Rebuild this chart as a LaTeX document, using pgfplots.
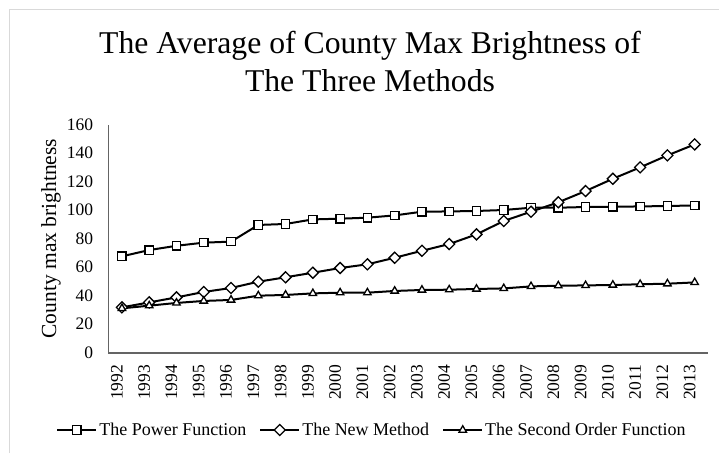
\documentclass[border=0pt]{standalone}
\usepackage{pgfplots}
\usepackage{pgfplotstable}
\pgfplotsset{compat=1.18}
\usepackage{fontspec}
\setmainfont{Liberation Serif}

\pgfplotstableread{
year power newm second
1992 67.6 31.8 31.1
1993 72.0 35.3 33.0
1994 75.0 38.8 34.9
1995 77.2 42.6 36.3
1996 77.9 45.4 37.0
1997 89.6 49.8 40.0
1998 90.3 52.9 40.5
1999 93.5 56.1 41.6
2000 94.0 59.4 42.1
2001 94.7 62.0 42.1
2002 96.3 66.6 43.3
2003 98.9 71.5 44.0
2004 99.1 76.2 44.2
2005 99.4 83.0 44.7
2006 100.1 92.4 45.1
2007 101.7 98.9 46.5
2008 101.7 105.5 47.0
2009 102.2 113.4 47.2
2010 102.4 122.0 47.5
2011 102.6 130.0 48.0
2012 102.9 138.4 48.4
2013 103.3 146.1 49.3
}\data

\definecolor{borderg}{RGB}{217,217,217}
\definecolor{axisg}{RGB}{100,100,100}

\begin{document}
\begin{tikzpicture}[x=1pt,y=1pt]
\useasboundingbox (0,0) rectangle (719,453);
\draw[borderg, line width=1pt] (9.3,0) -- (9.3,443.7) -- (719,443.7);
\node[anchor=base, inner sep=0pt, font=\fontsize{31.7}{38}\selectfont] at (370,399.7) {The Average of County Max Brightness of};
\node[anchor=base, inner sep=0pt, font=\fontsize{31.7}{38}\selectfont] at (370,361.5) {The Three Methods};
\begin{axis}[
  at={(108.3pt,100.3pt)}, anchor=south west,
  scale only axis, width=600pt, height=228.1pt,
  xmin=1991.5, xmax=2013.5, ymin=0, ymax=160,
  ytick={0,20,...,160},
  xtick=data,
  axis lines*=left,
  axis line style={-, draw=axisg},
  x axis line style={line width=2pt},
  y axis line style={line width=1.3pt},
  major tick length=0pt,
  /pgf/number format/assume math mode=true,
  /pgf/number format/1000 sep={},
  ticklabel style={font=\fontsize{17.5}{17.5}\selectfont},
  yticklabel style={anchor=east, inner sep=0pt, xshift=-15pt},
  xticklabel style={xshift=-5pt, yshift=-12pt, rotate=90, anchor=east, inner sep=0pt},
  ylabel={County max brightness},
  ylabel style={at={(axis description cs:-0.0955,0.5)}, anchor=center, inner sep=0pt, font=\fontsize{21.5}{21.5}\selectfont},
  legend columns=3,
  legend style={at={(axis description cs:0.4395,-0.339)}, anchor=center, draw=none, fill=none,
    font=\fontsize{18}{18}\selectfont, nodes={inner xsep=2pt},
    /tikz/every even column/.append style={column sep=11pt}},
  legend image code/.code={\draw[mark repeat=2,mark phase=2] plot coordinates {(0pt,0pt) (19.5pt,0pt) (39pt,0pt)};},
  every axis plot/.append style={black, line width=2pt},
]
\addplot[mark=square*, mark size=4.2pt, mark options={fill=white, line width=1.3pt, solid}] table[x=year, y=power] {\data};
\addlegendentry{The Power Function}
\addplot[mark=square*, mark size=3.9pt, mark options={fill=white, line width=1.3pt, solid, rotate=45}] table[x=year, y=newm] {\data};
\addlegendentry{The New Method}
\addplot[mark=triangle*, mark size=4.3pt, mark options={fill=white, line width=1.3pt, solid}] table[x=year, y=second] {\data};
\addlegendentry{The Second Order Function}
\end{axis}
\end{tikzpicture}
\end{document}
